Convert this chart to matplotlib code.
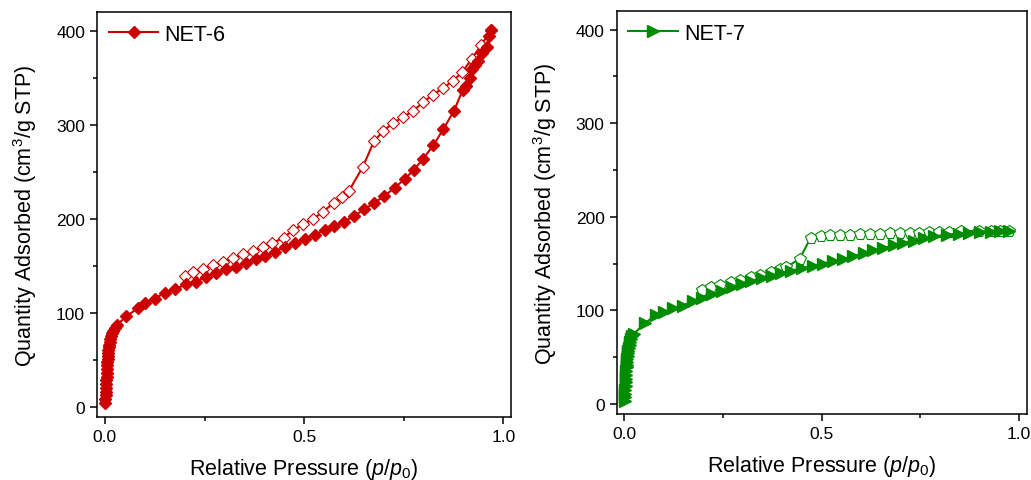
import matplotlib
matplotlib.use("Agg")
import matplotlib.pyplot as plt
from matplotlib.ticker import MultipleLocator

plt.rcParams["font.family"] = ["Liberation Sans", "DejaVu Sans"]
plt.rcParams["mathtext.fontset"] = "custom"
plt.rcParams["mathtext.rm"] = "Liberation Sans"
plt.rcParams["mathtext.it"] = "Liberation Sans:italic"

RED = "#cc0000"
GREEN = "#008c00"

# NET-6 adsorption (filled diamonds)
net6_ads_p = [0.001, 0.0015, 0.002, 0.0025, 0.003, 0.0035, 0.004, 0.0045, 0.005, 0.0055,
              0.006, 0.0065, 0.007, 0.0075, 0.008, 0.009, 0.010, 0.011, 0.012, 0.014,
              0.016, 0.018, 0.021, 0.025, 0.030,
              0.054, 0.083, 0.100, 0.125, 0.150, 0.176, 0.203, 0.228, 0.253, 0.278,
              0.304, 0.328, 0.353, 0.378, 0.403, 0.426, 0.451, 0.476, 0.501, 0.526,
              0.552, 0.576, 0.601, 0.626, 0.651, 0.676, 0.701, 0.727, 0.752, 0.775,
              0.799, 0.824, 0.849, 0.876, 0.898, 0.905, 0.916, 0.922, 0.929, 0.937,
              0.947, 0.958, 0.964, 0.969]
net6_ads_q = [4, 8, 12, 16, 20, 24, 28, 32, 36, 40,
              44, 48, 51, 54, 57, 60, 63, 66, 69, 72,
              75, 78, 81, 84, 87,
              96, 105, 110, 115, 121, 125, 130, 133, 138, 142,
              146, 149, 153, 157, 160, 165, 170, 174, 178, 183,
              188, 192, 197, 203, 210, 217, 224, 233, 242, 252,
              264, 278, 295, 315, 337, 341, 350, 359, 364, 368,
              376, 383, 394, 401]

# NET-6 desorption (open diamonds)
net6_des_p = [0.201, 0.222, 0.246, 0.271, 0.296, 0.321, 0.347, 0.372, 0.397, 0.420,
              0.449, 0.473, 0.498, 0.523, 0.547, 0.574, 0.596, 0.613, 0.647, 0.676,
              0.698, 0.723, 0.748, 0.774, 0.799, 0.823, 0.849, 0.874, 0.897, 0.920,
              0.945, 0.969]
net6_des_q = [139.5, 143, 147, 151, 154, 158, 162, 166, 170, 174,
              180, 188, 194, 200, 207, 217, 223, 230, 255, 283,
              293, 302, 308, 315, 324, 332, 339, 347, 356, 370,
              385, 401]

# NET-7 adsorption (filled right triangles)
net7_ads_p = [0.001, 0.0015, 0.002, 0.0025, 0.003, 0.0035, 0.004, 0.0045, 0.005, 0.0055,
              0.006, 0.0065, 0.007, 0.008, 0.009, 0.010, 0.011, 0.013, 0.015, 0.017,
              0.020, 0.024,
              0.053, 0.080, 0.100, 0.124, 0.148, 0.173, 0.197, 0.222, 0.248, 0.273,
              0.297, 0.322, 0.348, 0.373, 0.398, 0.423, 0.451, 0.478, 0.504, 0.529,
              0.555, 0.580, 0.606, 0.631, 0.656, 0.682, 0.707, 0.733, 0.758, 0.784,
              0.818, 0.847, 0.873, 0.902, 0.928, 0.953, 0.975]
net7_ads_q = [3, 7, 11, 15, 19, 23, 27, 31, 35, 39,
              42, 45, 48, 51, 54, 57, 60, 63, 66, 69,
              72, 75,
              86.6, 94.8, 98, 102, 105, 110, 113, 117, 121, 125,
              128, 131, 135, 137, 140, 142.5, 145, 147.5, 150, 152.3,
              155, 158, 160.8, 164, 166.8, 169.3, 172, 174.6, 177, 179,
              180.7, 182, 182.4, 183.5, 184.2, 184.6, 185]

# NET-7 desorption (open pentagons)
net7_des_p = [0.197, 0.220, 0.243, 0.269, 0.294, 0.320, 0.344, 0.372, 0.394, 0.410,
              0.444, 0.472, 0.498, 0.520, 0.546, 0.572, 0.597, 0.623, 0.648, 0.673,
              0.699, 0.724, 0.746, 0.772, 0.797, 0.822, 0.852, 0.898, 0.928, 0.953,
              0.975]
net7_des_q = [121.4, 124.6, 127.4, 130.3, 132.7, 135.6, 138, 141, 143.7, 146,
              155, 177.5, 179, 180, 180.7, 181, 181.4, 181.7, 182, 182.4,
              182.8, 182.8, 183, 183.5, 183.8, 184, 184.5, 185, 184.5, 184.5,
              184.5]


def style_axes(ax):
    ax.set_xlim(-0.02, 1.02)
    ax.set_ylim(-11, 420)
    ax.xaxis.set_major_locator(MultipleLocator(0.5))
    ax.xaxis.set_minor_locator(MultipleLocator(0.25))
    ax.yaxis.set_major_locator(MultipleLocator(100))
    ax.yaxis.set_minor_locator(MultipleLocator(50))
    ax.xaxis.set_major_formatter(plt.FormatStrFormatter("%.1f"))
    ax.tick_params(which="major", direction="out", length=5, width=1.1, labelsize=12.5)
    ax.tick_params(which="minor", direction="out", length=3, width=1.1)
    for s in ax.spines.values():
        s.set_linewidth(1.1)
    ax.set_xlabel(r"Relative Pressure ($\it{p}$/$\it{p}_0$)", fontsize=15.5, labelpad=9)
    ax.set_ylabel(r"Quantity Adsorbed (cm$^3$/g STP)", fontsize=15.5, labelpad=12)


fig = plt.figure(figsize=(10.31, 4.81), dpi=100)
ax1 = fig.add_axes([0.094, 0.131, 0.402, 0.842])
ax2 = fig.add_axes([0.598, 0.137, 0.398, 0.838])

ax1.plot(net6_des_p, net6_des_q, color=RED, lw=1.5, marker="D", ms=6.5,
         mfc="white", mec=RED, mew=0.8)
ax1.plot(net6_ads_p, net6_ads_q, color=RED, lw=1.5, marker="D", ms=6.5,
         mfc=RED, mec=RED, label="NET-6")

ax2.plot(net7_des_p, net7_des_q, color=GREEN, lw=1.5, marker="p", ms=8.5,
         mfc="white", mec=GREEN, mew=0.8)
ax2.plot(net7_ads_p, net7_ads_q, color=GREEN, lw=1.5, marker=">", ms=8,
         mfc=GREEN, mec=GREEN, label="NET-7")

for ax in (ax1, ax2):
    style_axes(ax)
    ax.legend(loc="upper left", frameon=False, fontsize=15.5, handlelength=2.3,
              handletextpad=0.3, borderaxespad=0.3, borderpad=0.25)

fig.savefig("out.png", dpi=100)
